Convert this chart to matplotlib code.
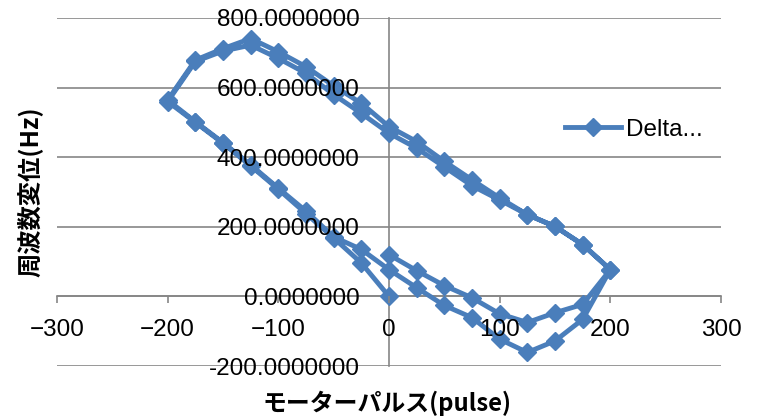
import matplotlib
matplotlib.use("Agg")
import matplotlib.pyplot as plt
import numpy as np

# motor pulse sweep: 0 -> 200 -> -200 -> 200 -> -200 -> 0
pulse = [0, 25, 50, 75, 100, 125, 150, 175, 200,
         175, 150, 125, 100, 75, 50, 25, 0, -25, -50, -75, -100, -125, -150, -175, -200,
         -175, -150, -125, -100, -75, -50, -25, 0, 25, 50, 75, 100, 125, 150, 175, 200,
         175, 150, 125, 100, 75, 50, 25, 0, -25, -50, -75, -100, -125, -150, -175, -200,
         -175, -150, -125, -100, -75, -50, -25, 0]
# frequency shift (Hz)
delta = [120, 74, 31, -4, -50, -75, -47, -23, 77,
         149, 201, 235, 283, 335, 388, 445, 488, 555, 605, 660, 703, 741, 712, 679, 564,
         502, 442, 378, 311, 245, 171, 135, 77, 25, -26, -61, -123, -161, -128, -66, 77,
         149, 201, 235, 277, 318, 372, 426, 469, 526, 580, 641, 684, 722, 705, 675, 560,
         500, 440, 375, 308, 238, 168, 96, 0]

xticks = [-300, -200, -100, 0, 100, 200, 300]
yticks = [-200, 0, 200, 400, 600, 800]

blue = "#4A7EBB"
gray = "#868686"
jp = ["Noto Sans CJK JP", "DejaVu Sans"]

plt.rcParams["font.family"] = ["Liberation Sans", "DejaVu Sans"]

fig = plt.figure(figsize=(7.6, 4.19), dpi=100)
ax = fig.add_axes([57 / 760, 1 - 366 / 419, 664 / 760, 348 / 419])

# horizontal gridlines drawn by hand so tick labels can sit above the data
for v in yticks:
    ax.axhline(v, color=gray, linewidth=1.2, zorder=0.5)

ax.plot(pulse, delta, color=blue, linewidth=3.5, marker="D", markersize=9.5,
        markerfacecolor=blue, markeredgecolor=blue, label="Delta...", zorder=2)

ax.set_xlim(-300, 300)
ax.set_ylim(-200, 800)
ax.set_xticks(xticks)
ax.set_yticks(yticks)
ax.set_yticklabels(["%.7f" % v for v in yticks])
ax.set_axisbelow(False)

# axes cross at the origin, like a spreadsheet chart
for side in ["top", "right"]:
    ax.spines[side].set_visible(False)
ax.spines["left"].set_position(("data", 0))
ax.spines["bottom"].set_position(("data", 0))
for side in ["left", "bottom"]:
    ax.spines[side].set_color(gray)
    ax.spines[side].set_linewidth(1.2)
    ax.spines[side].set_zorder(1)

ax.tick_params(axis="y", length=0, pad=21, labelsize=17.5)
ax.tick_params(axis="x", length=5, width=1.2, color=gray, direction="out",
               pad=11, labelsize=17.5)

ax.set_xlabel("モーターパルス(pulse)", family=jp, fontsize=17.2, fontweight="bold",
              va="center", ha="center")
ax.xaxis.set_label_coords(0.497, -0.106)
ax.set_ylabel("周波数変位(Hz)", family=jp, fontsize=17.5, fontweight="bold",
              va="center", ha="center", rotation_mode="anchor")
ax.yaxis.set_label_coords(-0.0407, 0.5)

ax.legend(loc="center left", bbox_to_anchor=(565 / 760, 1 - 130 / 419),
          bbox_transform=fig.transFigure, frameon=False, fontsize=17.5,
          handlelength=2.3, handletextpad=0.2, borderpad=0, borderaxespad=0)

fig.savefig("out.png", dpi=100)
